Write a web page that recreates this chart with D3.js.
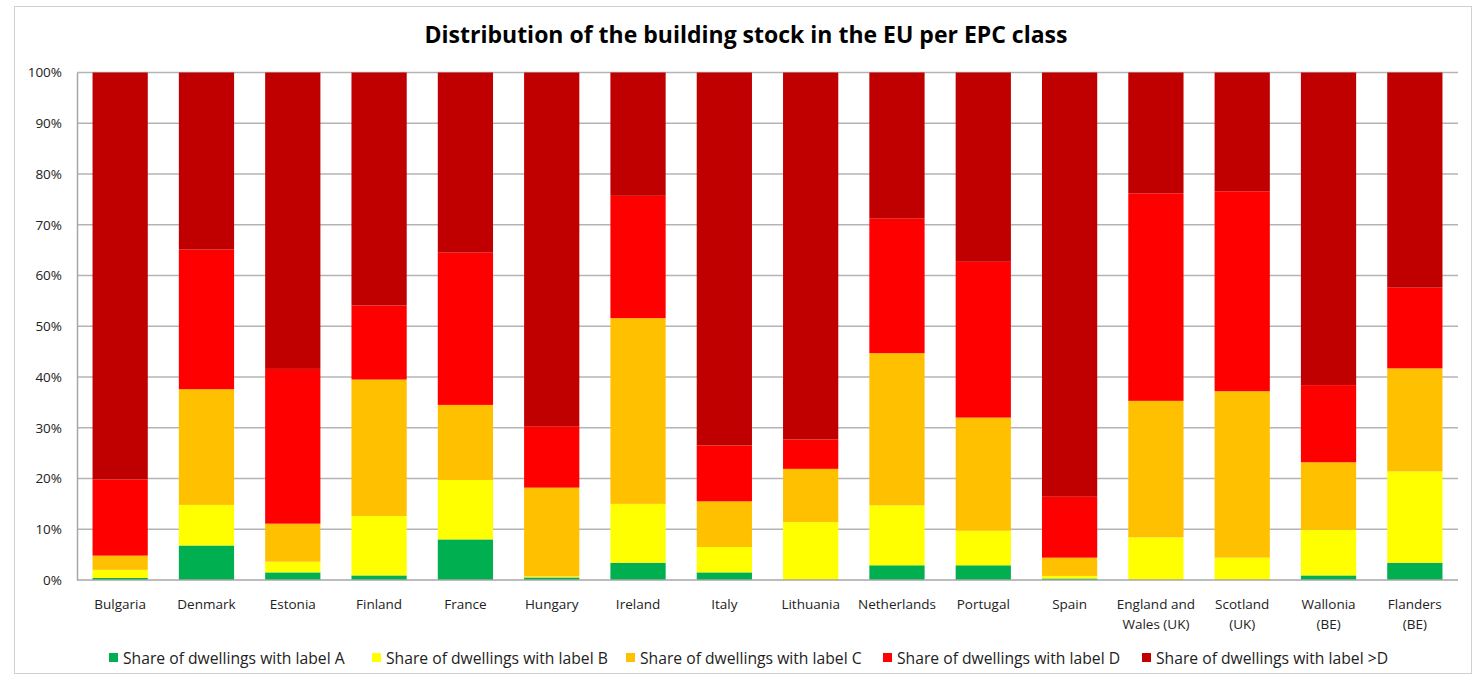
<!DOCTYPE html>
<html>
<head>
<meta charset="utf-8">
<script src="https://cdn.jsdelivr.net/npm/d3@7"></script>
<style>
  body { margin: 0; background: #fff; }
  text { font-family: "Open Sans", sans-serif; fill: #222; }
</style>
</head>
<body>
<div id="chart"></div>
<script>
// categories (multi-line labels)
const countries = [
  ["Bulgaria"], ["Denmark"], ["Estonia"], ["Finland"], ["France"], ["Hungary"],
  ["Ireland"], ["Italy"], ["Lithuania"], ["Netherlands"], ["Portugal"], ["Spain"],
  ["England and", "Wales (UK)"], ["Scotland", "(UK)"], ["Wallonia", "(BE)"], ["Flanders", "(BE)"]
]

// shares per EPC class, in %
const labelA  = [0.4, 6.8, 1.5, 0.9, 8.0, 0.5, 3.4, 1.5, 0.0, 2.9, 2.9, 0.3, 0.0, 0.0, 0.9, 3.4]
const labelB  = [1.6, 8.0, 2.1, 11.7, 11.7, 0.2, 11.6, 5.0, 11.4, 11.8, 6.8, 0.5, 8.4, 4.4, 9.0, 18.0]
const labelC  = [2.8, 22.8, 7.5, 26.9, 14.8, 17.5, 36.6, 9.0, 10.5, 30.0, 22.3, 3.6, 26.9, 32.8, 13.3, 20.3]
const labelD  = [15.0, 27.5, 30.5, 14.6, 30.0, 12.0, 24.1, 11.0, 5.8, 26.5, 30.7, 12.0, 40.9, 39.4, 15.2, 15.9]
const labelGD = [80.2, 34.9, 58.4, 45.9, 35.5, 69.8, 24.3, 73.5, 72.3, 28.8, 37.3, 83.6, 23.8, 23.4, 61.6, 42.4]

const seriesNames = [
  "Share of dwellings with label A",
  "Share of dwellings with label B",
  "Share of dwellings with label C",
  "Share of dwellings with label D",
  "Share of dwellings with label >D"
]
const seriesColors = ["#00B050", "#FFFF00", "#FFC000", "#FF0000", "#C00000"]
const yTicks = [0, 10, 20, 30, 40, 50, 60, 70, 80, 90, 100]

const width = 1478, height = 677
const margin = { left: 77, right: 20, top: 72.5, bottom: 97 }

const svg = d3.select("#chart")
  .append("svg")
    .attr("width", width)
    .attr("height", height)

// outer frame
svg.append("rect")
  .attr("x", 14.5).attr("y", 6.5)
  .attr("width", 1457).attr("height", 667)
  .attr("fill", "none")
  .attr("stroke", "#d0d0d0")
  .attr("stroke-width", 1)

// title
svg.append("text")
  .attr("x", 746)
  .attr("y", 43)
  .attr("text-anchor", "middle")
  .attr("font-family", "Lato, sans-serif")
  .attr("font-weight", "bold")
  .attr("font-size", 23)
  .style("fill", "#000")
  .text("Distribution of the building stock in the EU per EPC class")

// table for stacking
const table = countries.map((c, i) => ({
  key: c.join(" "),
  lines: c,
  A: labelA[i], B: labelB[i], C: labelC[i], D: labelD[i], GD: labelGD[i]
}))
const keys = ["A", "B", "C", "D", "GD"]
const stacked = d3.stack().keys(keys)(table)

// scales
const x = d3.scaleBand()
  .domain(table.map(d => d.key))
  .range([margin.left, width - margin.right])
  .paddingInner(0.36)
  .paddingOuter(0.18)

const y = d3.scaleLinear()
  .domain([0, 100])
  .range([580, margin.top])

// gridlines
svg.append("g")
  .selectAll("line")
  .data(yTicks.filter(t => t > 0))
  .enter()
  .append("line")
    .attr("x1", margin.left)
    .attr("x2", width - margin.right)
    .attr("y1", d => y(d))
    .attr("y2", d => y(d))
    .attr("stroke", "#b4b4b4")
    .attr("stroke-width", 1.5)

// bars
svg.append("g")
  .selectAll("g")
  .data(stacked)
  .enter()
  .append("g")
    .attr("fill", (d, i) => seriesColors[i])
  .selectAll("rect")
  .data(d => d)
  .enter()
  .append("rect")
    .attr("x", d => x(d.data.key))
    .attr("width", x.bandwidth())
    .attr("y", d => y(d[1]))
    .attr("height", d => y(d[0]) - y(d[1]))

// y axis
const yAxis = d3.axisLeft(y)
  .tickValues(yTicks)
  .tickFormat(d => d + "%")
  .tickSize(0)
  .tickPadding(15)

const yg = svg.append("g")
  .attr("transform", "translate(" + margin.left + ",0)")
  .call(yAxis)
yg.select(".domain").attr("stroke", "#a6a6a6").attr("stroke-width", 1.5)
yg.selectAll("text")
  .attr("font-size", 13.5)
  .style("font-family", "'Open Sans', sans-serif")
  .style("fill", "#222")

// x baseline
svg.append("line")
  .attr("x1", margin.left)
  .attr("x2", width - margin.right)
  .attr("y1", y(0))
  .attr("y2", y(0))
  .attr("stroke", "#a6a6a6")
  .attr("stroke-width", 1.5)

// category labels
const xl = svg.append("g")
  .selectAll("text")
  .data(table)
  .enter()
  .append("text")
    .attr("x", d => x(d.key) + x.bandwidth() / 2)
    .attr("y", 609)
    .attr("text-anchor", "middle")
    .attr("font-size", 13.5)

xl.selectAll("tspan")
  .data(d => d.lines)
  .enter()
  .append("tspan")
    .attr("x", function () { return d3.select(this.parentNode).attr("x") })
    .attr("dy", (d, i) => i == 0 ? 0 : 20)
    .text(d => d)

// legend
const legendX = [109, 372, 626, 883, 1142]
const legend = svg.selectAll(".legend")
  .data(seriesNames)
  .enter()
  .append("g")
    .attr("class", "legend")
    .attr("transform", (d, i) => "translate(" + legendX[i] + ", 659)")

legend.append("rect")
  .attr("x", 0)
  .attr("y", -6)
  .attr("width", 9)
  .attr("height", 9)
  .attr("fill", (d, i) => seriesColors[i])

legend.append("text")
  .attr("x", 14)
  .attr("y", 5)
  .attr("font-size", 15.7)
  .text(d => d)
</script>
</body>
</html>
